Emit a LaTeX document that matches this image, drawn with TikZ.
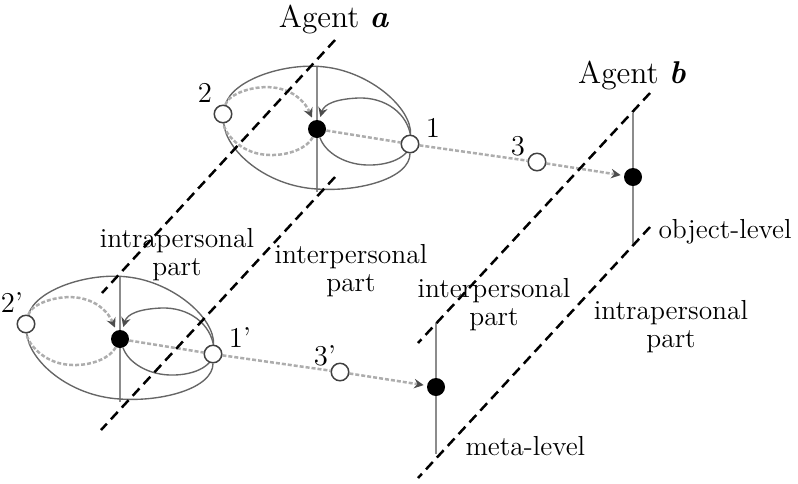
\documentclass[tikz,border=0pt]{standalone}
\usetikzlibrary{arrows.meta,backgrounds}
\tikzset{
  opencirc/.style={circle,draw=black!75,fill=white,line width=0.6pt,minimum size=7pt,inner sep=0pt},
  fulldot/.style={circle,fill=black,minimum size=7.2pt,inner sep=0pt},
  axisline/.style={draw=black!45,line width=0.8pt},
  loopline/.style={draw=black!60,line width=0.55pt},
  flowline/.style={draw=black!32,line width=1pt,dash pattern=on 1.6pt off 0.8pt},
  flowtip/.style={-{Stealth[length=3.8pt,width=3.8pt,inset=1.3pt,color=black!70]},shorten >=1.2pt},
  plane/.style={draw=black,line width=1pt,dash pattern=on 4pt off 2.4pt},
  numlab/.style={font=\fontsize{11.5}{12}\selectfont,inner sep=0pt,anchor=base},
  partlab/.style={font=\fontsize{11}{11.2}\selectfont,align=center,inner sep=0pt,anchor=base},
  sidelab/.style={font=\fontsize{11}{11.2}\selectfont,inner sep=0pt,anchor=base west},
  agentlab/.style={font=\fontsize{12.6}{14}\selectfont,inner sep=0pt,anchor=base},
}
\newcommand\drawlevel[2]{%
  \node[fulldot] (dota#1) at (317,129) {};
  \node[opencirc] (ntwo#1) at (223,114) {};
  \node[opencirc] (none#1) at (410,144) {};
  \node[opencirc] (nthree#1) at (537,162) {};
  \node[fulldot] (dotb#1) at (633,177) {};
  \coordinate (vat#1) at (317,66);
  \coordinate (vab#1) at (317,192);
  \coordinate (vbt#1) at (633,113);
  \coordinate (vbb#1) at (633,244);
  \node[numlab] (ltwo#1) at (205,102) {2\rlap{#2}};
  \node[numlab] (lone#1) at (433,137) {1\rlap{#2}};
  \node[numlab] (lthree#1) at (518,155) {3\rlap{#2}};
  \begin{pgfonlayer}{background}
    \draw[axisline] (vat#1) -- (vab#1);
    \draw[axisline] (vbt#1) -- (vbb#1);
    % outer ellipse through 2 and 1
    \draw[loopline] (ntwo#1) .. controls (232,80) and (285,62) .. (325,67)
                    .. controls (370,72) and (412,108) .. (none#1);
    \draw[loopline] (none#1) .. controls (410,178) and (360,192) .. (317,189)
                    .. controls (265,186) and (226,150) .. (ntwo#1);
    % inner solid loop round 1
    \draw[loopline,flowtip] (dota#1) .. controls (325,152) and (345,166) .. (372,165)
                    .. controls (398,164) and (413,152) .. (411,138)
                    .. controls (408,113) and (385,97) .. (358,98)
                    .. controls (336,99) and (324,104) .. (dota#1);
    % dotted loop round 2
    \draw[flowline] (dota#1) .. controls (306,150) and (282,158) .. (260,154)
                    .. controls (238,150) and (224,132) .. (ntwo#1);
    \draw[flowline,flowtip] (ntwo#1) .. controls (228,94) and (255,84) .. (277,88)
                    .. controls (297,92) and (306,104) .. (dota#1);
    % straight flows
    \draw[flowline] (dota#1) -- (none#1);
    \draw[flowline] (none#1) -- (nthree#1);
    \draw[flowline,flowtip] (nthree#1) -- (dotb#1);
  \end{pgfonlayer}
}
\begin{document}
\begin{tikzpicture}[x=0.4pt,y=-0.4pt]
  \useasboundingbox (0,0) rectangle (798,483);
  \drawlevel{o}{}
  \begin{scope}[shift={(-197,210)}]
    \drawlevel{m}{’}
  \end{scope}
  % planes
  \coordinate (pAt) at (335,40);  \coordinate (pAb) at (102,293);
  \coordinate (pBt) at (335,177); \coordinate (pBb) at (101,430);
  \coordinate (pCt) at (650,93);  \coordinate (pCb) at (418,343);
  \coordinate (pDt) at (650,227); \coordinate (pDb) at (418,478);
  \draw[plane] (pAt) -- (pAb);
  \draw[plane] (pBt) -- (pBb);
  \draw[plane] (pCt) -- (pCb);
  \draw[plane] (pDt) -- (pDb);
  % labels
  \node[agentlab] (agenta) at (334,27) {Agent \textbf{\textit{a}}};
  \node[agentlab] (agentb) at (632,83) {Agent \textbf{\textit{b}}};
  \node[partlab] (intraa) at (177,275) {intrapersonal\\part};
  \node[partlab] (intera) at (351,291) {interpersonal\\part};
  \node[partlab] (interb) at (494,325) {interpersonal\\part};
  \node[partlab] (intrab) at (671,347) {intrapersonal\\part};
  \node[sidelab] (objlev) at (658,238) {object-level};
  \node[sidelab] (metalev) at (465,455) {meta-level};
\end{tikzpicture}
\end{document}
